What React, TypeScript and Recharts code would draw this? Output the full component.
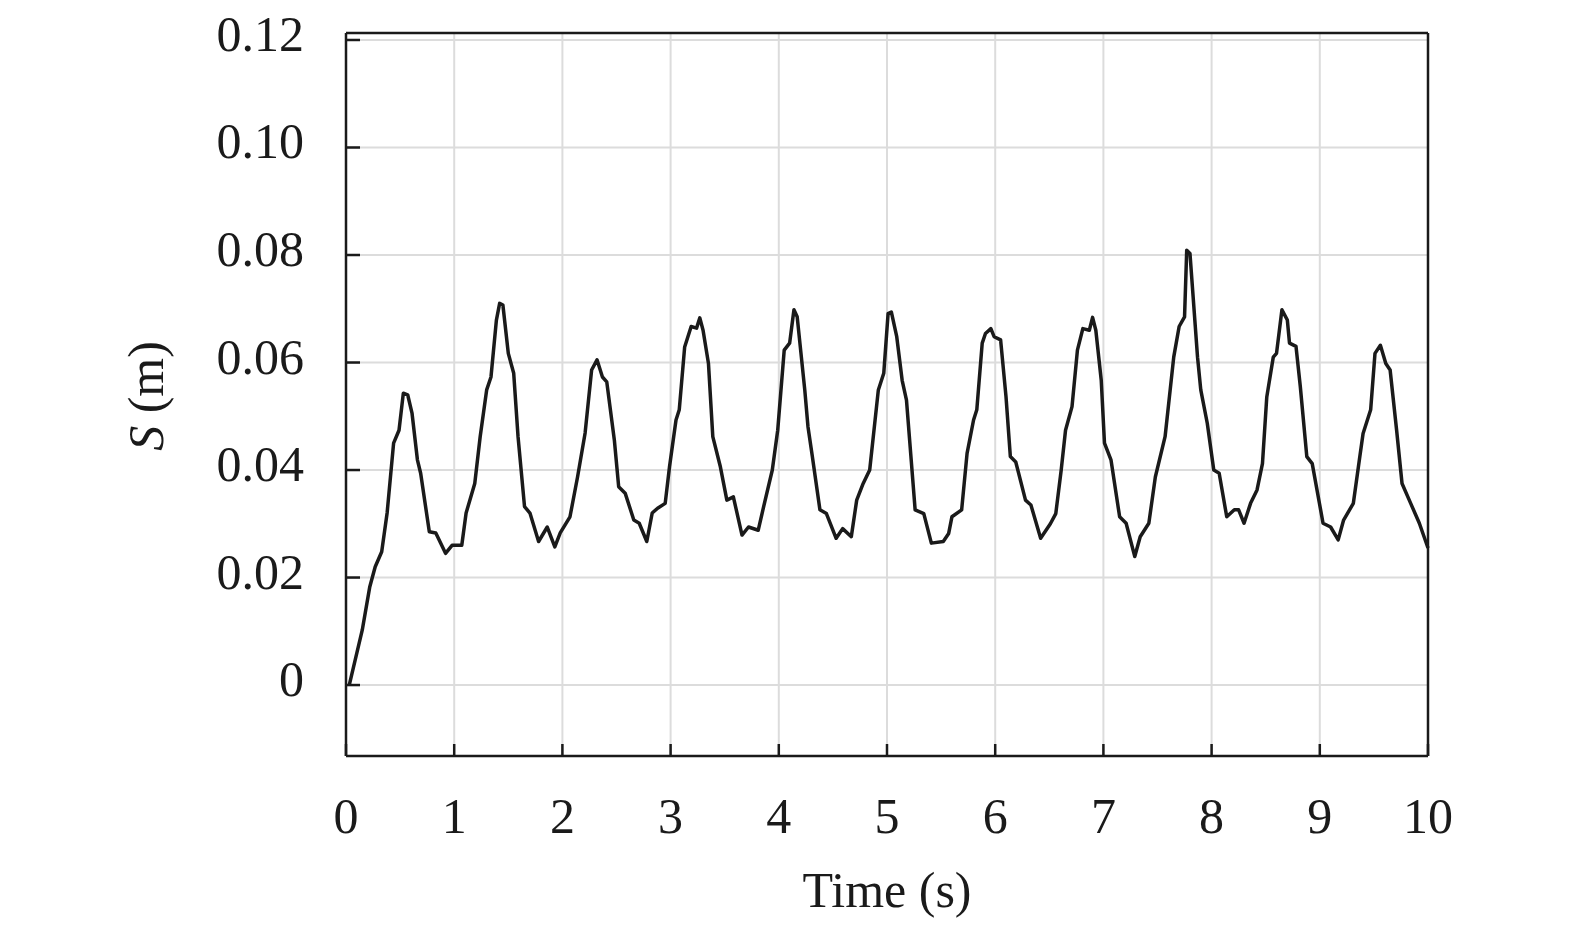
import { LineChart, Line, XAxis, YAxis, CartesianGrid, ReferenceLine } from "recharts";

// time (s) and displacement S (m)
const times = [
  0.03, 0.15, 0.22, 0.27, 0.33, 0.38, 0.44, 0.49, 0.53, 0.57, 0.61, 0.66, 0.69, 0.77, 0.83, 0.92, 0.98,
  1.07, 1.11, 1.19, 1.24, 1.30, 1.34, 1.39, 1.42, 1.45, 1.50, 1.55, 1.59, 1.65, 1.70, 1.78, 1.86, 1.93, 1.98,
  2.07, 2.14, 2.21, 2.27, 2.32, 2.37, 2.41, 2.48, 2.52, 2.58, 2.66, 2.71, 2.78, 2.83, 2.88, 2.95,
  2.99, 3.05, 3.08, 3.13, 3.19, 3.24, 3.27, 3.30, 3.35, 3.39, 3.46, 3.52, 3.58, 3.66, 3.72, 3.81, 3.86, 3.94,
  3.99, 4.05, 4.10, 4.14, 4.17, 4.24, 4.27, 4.31, 4.38, 4.44, 4.53, 4.59, 4.67, 4.72, 4.78, 4.84, 4.92,
  4.97, 5.01, 5.04, 5.09, 5.14, 5.18, 5.26, 5.34, 5.41, 5.52, 5.57, 5.60, 5.69, 5.74, 5.80, 5.83, 5.88, 5.91, 5.96,
  5.99, 6.05, 6.10, 6.14, 6.19, 6.28, 6.33, 6.42, 6.51, 6.56, 6.61, 6.65, 6.71, 6.76, 6.81, 6.87, 6.90, 6.93,
  6.98, 7.01, 7.07, 7.15, 7.21, 7.29, 7.34, 7.42, 7.48, 7.57, 7.65, 7.70, 7.75, 7.77, 7.80,
  7.87, 7.90, 7.96, 8.02, 8.07, 8.14, 8.21, 8.25, 8.30, 8.36, 8.42, 8.47, 8.51, 8.57, 8.60, 8.65, 8.70,
  8.72, 8.78, 8.82, 8.88, 8.93, 9.03, 9.10, 9.17, 9.22, 9.31, 9.37, 9.40, 9.47, 9.51, 9.56, 9.61, 9.65,
  9.71, 9.76, 9.84, 9.92, 10.0,
];

const displacement = [
  0.0, 0.0102, 0.0183, 0.022, 0.0248, 0.032, 0.045, 0.0474, 0.0543, 0.054, 0.0506, 0.0419, 0.0394, 0.0285, 0.0283, 0.0245, 0.026,
  0.026, 0.032, 0.0375, 0.0462, 0.0549, 0.0573, 0.0679, 0.071, 0.0707, 0.0617, 0.058, 0.0462, 0.0332, 0.032, 0.0267, 0.0294, 0.0257, 0.0283,
  0.0313, 0.0387, 0.0469, 0.0586, 0.0605, 0.0573, 0.0564, 0.0456, 0.0369, 0.0357, 0.0307, 0.0301, 0.0267, 0.032, 0.0329, 0.0338,
  0.0406, 0.0493, 0.0512, 0.0629, 0.0667, 0.0664, 0.0683, 0.066, 0.0598, 0.0462, 0.0406, 0.0344, 0.035, 0.0279, 0.0294, 0.0288, 0.0332, 0.04,
  0.0474, 0.0623, 0.0636, 0.0698, 0.0685, 0.0549, 0.048, 0.0425, 0.0326, 0.0319, 0.0273, 0.0291, 0.0276, 0.0344, 0.0375, 0.04, 0.0549,
  0.058, 0.0691, 0.0694, 0.0648, 0.0567, 0.053, 0.0326, 0.0319, 0.0264, 0.0267, 0.0282, 0.0313, 0.0326, 0.0431, 0.0493, 0.0512, 0.0636, 0.0654, 0.0663,
  0.0648, 0.0642, 0.0536, 0.0425, 0.0415, 0.0344, 0.0335, 0.0273, 0.03, 0.0319, 0.04, 0.0474, 0.0518, 0.0623, 0.0663, 0.066, 0.0684, 0.066,
  0.0567, 0.045, 0.0419, 0.0313, 0.0301, 0.0239, 0.0276, 0.0301, 0.0387, 0.0462, 0.061, 0.0667, 0.0685, 0.0809, 0.0803,
  0.061, 0.0549, 0.0487, 0.04, 0.0394, 0.0313, 0.0326, 0.0326, 0.0301, 0.0338, 0.0363, 0.0412, 0.0536, 0.061, 0.0617, 0.0698, 0.0679,
  0.0636, 0.063, 0.0555, 0.0425, 0.0412, 0.0301, 0.0294, 0.027, 0.0307, 0.0338, 0.0425, 0.0468, 0.0512, 0.0617, 0.0632, 0.0598, 0.0586,
  0.0474, 0.0375, 0.0338, 0.0301, 0.0255,
];

const xTicks = [0, 1, 2, 3, 4, 5, 6, 7, 8, 9, 10];
const yTicks = [0, 0.02, 0.04, 0.06, 0.08, 0.1, 0.12];
const yMin = -0.0132;
const yMax = 0.1213;

const data = times.map((t, i) => ({ t, s: displacement[i] }));

const FONT = "'Liberation Serif', 'Times New Roman', serif";
const INK = "#1a1a1a";

function XTick(props: any) {
  const { x, y, payload } = props;
  return (
    <text x={x} y={y} dy={36} textAnchor="middle" fontFamily={FONT} fontSize={50} fill={INK}>
      {payload.value}
    </text>
  );
}

function YTick(props: any) {
  const { x, y, payload } = props;
  const v = payload.value === 0 ? "0" : Number(payload.value).toFixed(2);
  return (
    <text x={x} y={y} dy={11} textAnchor="end" fontFamily={FONT} fontSize={50} fill={INK}>
      {v}
    </text>
  );
}

export default function App() {
  return (
    <div style={{ position: "absolute", left: 0, top: 0, width: 1575, height: 929, background: "#fff" }}>
      <LineChart
        width={1575}
        height={929}
        data={data}
        margin={{ top: 33, right: 147, bottom: 113, left: 286 }}
      >
        <CartesianGrid stroke="#dcdcdc" strokeWidth={2} />
        <XAxis
          dataKey="t"
          type="number"
          domain={[0, 10]}
          ticks={xTicks}
          height={60}
          axisLine={{ stroke: INK, strokeWidth: 2.5 }}
          tickLine={{ stroke: INK, strokeWidth: 2.5 }}
          tickSize={-12}
          tickMargin={53}
          tick={<XTick />}
          interval={0}
          label={{
            content: () => (
              <text x={887} y={907} textAnchor="middle" fontFamily={FONT} fontSize={50} fill={INK}>
                Time (s)
              </text>
            ),
          }}
        />
        <YAxis
          type="number"
          domain={[yMin, yMax]}
          ticks={yTicks}
          width={60}
          axisLine={{ stroke: INK, strokeWidth: 2.5 }}
          tickLine={{ stroke: INK, strokeWidth: 2.5 }}
          tickSize={-14}
          tickMargin={56}
          tick={<YTick />}
          interval={0}
          allowDataOverflow
          label={{
            content: () => (
              <text
                x={163}
                y={396}
                textAnchor="middle"
                transform="rotate(-90 163 396)"
                fontSize={50}
                fill={INK}
                style={{ fontFamily: FONT }}
              >
                <tspan style={{ fontStyle: "italic", fontFamily: FONT }}>S</tspan>
                <tspan> (m)</tspan>
              </text>
            ),
          }}
        />
        <ReferenceLine x={10} stroke={INK} strokeWidth={2.5} />
        <ReferenceLine y={yMax} stroke={INK} strokeWidth={2.5} />
        <Line
          type="linear"
          dataKey="s"
          stroke={INK}
          strokeWidth={3.5}
          strokeLinejoin="round"
          dot={false}
          isAnimationActive={false}
        />
      </LineChart>
    </div>
  );
}
